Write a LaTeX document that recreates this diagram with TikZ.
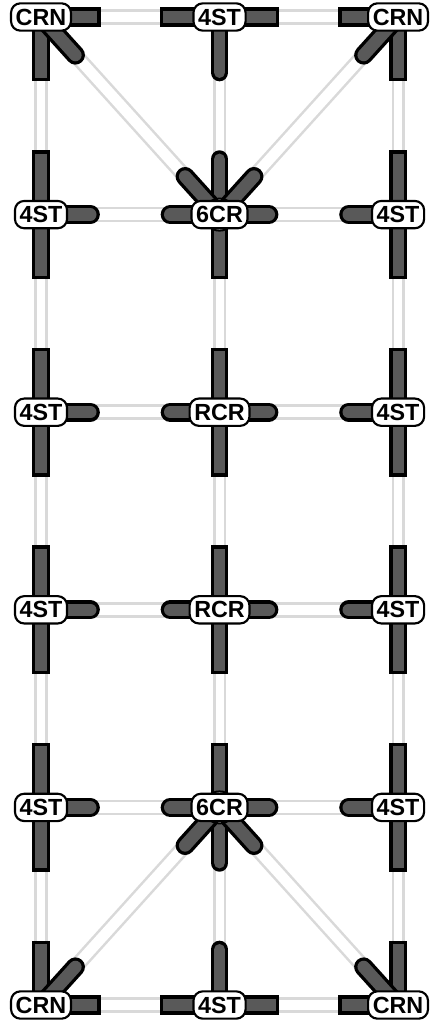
\documentclass[tikz,border=0pt]{standalone}
\usepackage{fontspec}
\setmainfont{Liberation Sans}
\usetikzlibrary{positioning,backgrounds,calc}
\definecolor{armgrey}{HTML}{595959}
\definecolor{railgrey}{HTML}{D9D9D9}
\tikzset{
  lbl/.style={draw=black, fill=white, line width=1.6pt, rounded corners=7pt, minimum height=20.5pt, inner xsep=3.5pt, inner ysep=0pt, font=\fontsize{17.5}{17.5}\selectfont\bfseries},
  hub/.style={circle, draw=black, fill=white, line width=1.5pt, minimum size=24pt, inner sep=0pt},
  railv/.style={draw=railgrey, line width=1.9pt, double=white, double distance=6pt},
  railh/.style={draw=railgrey, line width=1.9pt, double=white, double distance=7.9pt},
  armsq/.style={draw=black, line width=2.5pt, double=armgrey, double distance=8.3pt, line cap=rect},
  armrd/.style={draw=black, line width=2.5pt, double=armgrey, double distance=9.3pt, line cap=round},
  armflat/.style={armsq, double distance=9.3pt}
}
\begin{document}
\begin{tikzpicture}[node distance=148.2pt and 133.9pt, on grid]
        \path[use as bounding box] (-30.75pt,12.75pt) rectangle (294pt,-758.25pt);
        % left column
        \node[lbl] (r1a) at (0,0) {CRN};
        \node[lbl, below=of r1a] (r2a) {4ST};
        \node[lbl, below=of r2a] (r3a) {4ST};
        \node[lbl, below=of r3a] (r4a) {4ST};
        \node[lbl, below=of r4a] (r5a) {4ST};
        \node[lbl, below=of r5a] (r6a) {CRN};
        % middle column
        \node[lbl, right=of r1a] (r1b) {4ST};
        \node[lbl, right=of r2a] (r2b) {6CR};
        \node[lbl, right=of r3a] (r3b) {RCR};
        \node[lbl, right=of r4a] (r4b) {RCR};
        \node[lbl, right=of r5a] (r5b) {6CR};
        \node[lbl, right=of r6a] (r6b) {4ST};
        % right column
        \node[lbl, right=of r1b] (r1c) {CRN};
        \node[lbl, right=of r2b] (r2c) {4ST};
        \node[lbl, right=of r3b] (r3c) {4ST};
        \node[lbl, right=of r4b] (r4c) {4ST};
        \node[lbl, right=of r5b] (r5c) {4ST};
        \node[lbl, right=of r6b] (r6c) {CRN};
        \begin{scope}[on background layer]
          % rails
          \foreach \c in {a,b,c} {
            \draw[railv] (r1\c) -- (r2\c);
            \draw[railv] (r2\c) -- (r3\c);
            \draw[railv] (r3\c) -- (r4\c);
            \draw[railv] (r4\c) -- (r5\c);
            \draw[railv] (r5\c) -- (r6\c);
          }
          \foreach \r in {1,...,6} {
            \draw[railh] (r\r a) -- (r\r b);
            \draw[railh] (r\r b) -- (r\r c);
          }
          \draw[railh] (r1a) -- (r2b);
          \draw[railh] (r1c) -- (r2b);
          \draw[railh] (r6a) -- (r5b);
          \draw[railh] (r6c) -- (r5b);
          % square arms
          \foreach \n in {r2a,r3a,r4a,r5a,r2c,r3c,r4c,r5c,r3b,r4b,r5b,r6a,r6c} {
            \draw[armsq] (\n.center) -- ++(0,41.6pt) coordinate (\n up);
          }
          \foreach \n in {r2a,r3a,r4a,r5a,r2c,r3c,r4c,r5c,r3b,r4b,r2b,r1a,r1c} {
            \draw[armsq] (\n.center) -- ++(0,-41.6pt) coordinate (\n dn);
          }
          \foreach \n in {r1a,r6a,r1b,r6b} {
            \draw[armflat] (\n.center) -- ++(37.6pt,0) coordinate (\n rt);
          }
          \foreach \n in {r1c,r6c,r1b,r6b} {
            \draw[armflat] (\n.center) -- ++(-37.6pt,0) coordinate (\n lf);
          }
          % round arms
          \foreach \n in {r2b,r6b} {
            \draw[armrd, double distance=8.3pt] (\n.center) -- ++(0,41.6pt) coordinate (\n up);
          }
          \foreach \n in {r5b,r1b} {
            \draw[armrd, double distance=8.3pt] (\n.center) -- ++(0,-41.6pt) coordinate (\n dn);
          }
          \foreach \n in {r2a,r3a,r4a,r5a,r2b,r3b,r4b,r5b} {
            \draw[armrd] (\n.center) -- ++(37pt,0) coordinate (\n rt);
          }
          \foreach \n in {r2c,r3c,r4c,r5c,r2b,r3b,r4b,r5b} {
            \draw[armrd] (\n.center) -- ++(-37pt,0) coordinate (\n lf);
          }
          % diagonal arms
          \foreach \f/\t in {r1a/r2b,r1c/r2b,r6a/r5b,r6c/r5b,r2b/r1a,r2b/r1c,r5b/r6a,r5b/r6c} {
            \draw[armrd] (\f.center) -- ($(\f.center)!38.5pt!(\t.center)$) coordinate (\f to\t);
          }
          \node[hub] (h2) at (r2b) {};
          \node[hub] (h5) at (r5b) {};
        \end{scope}
      \end{tikzpicture}
\end{document}
